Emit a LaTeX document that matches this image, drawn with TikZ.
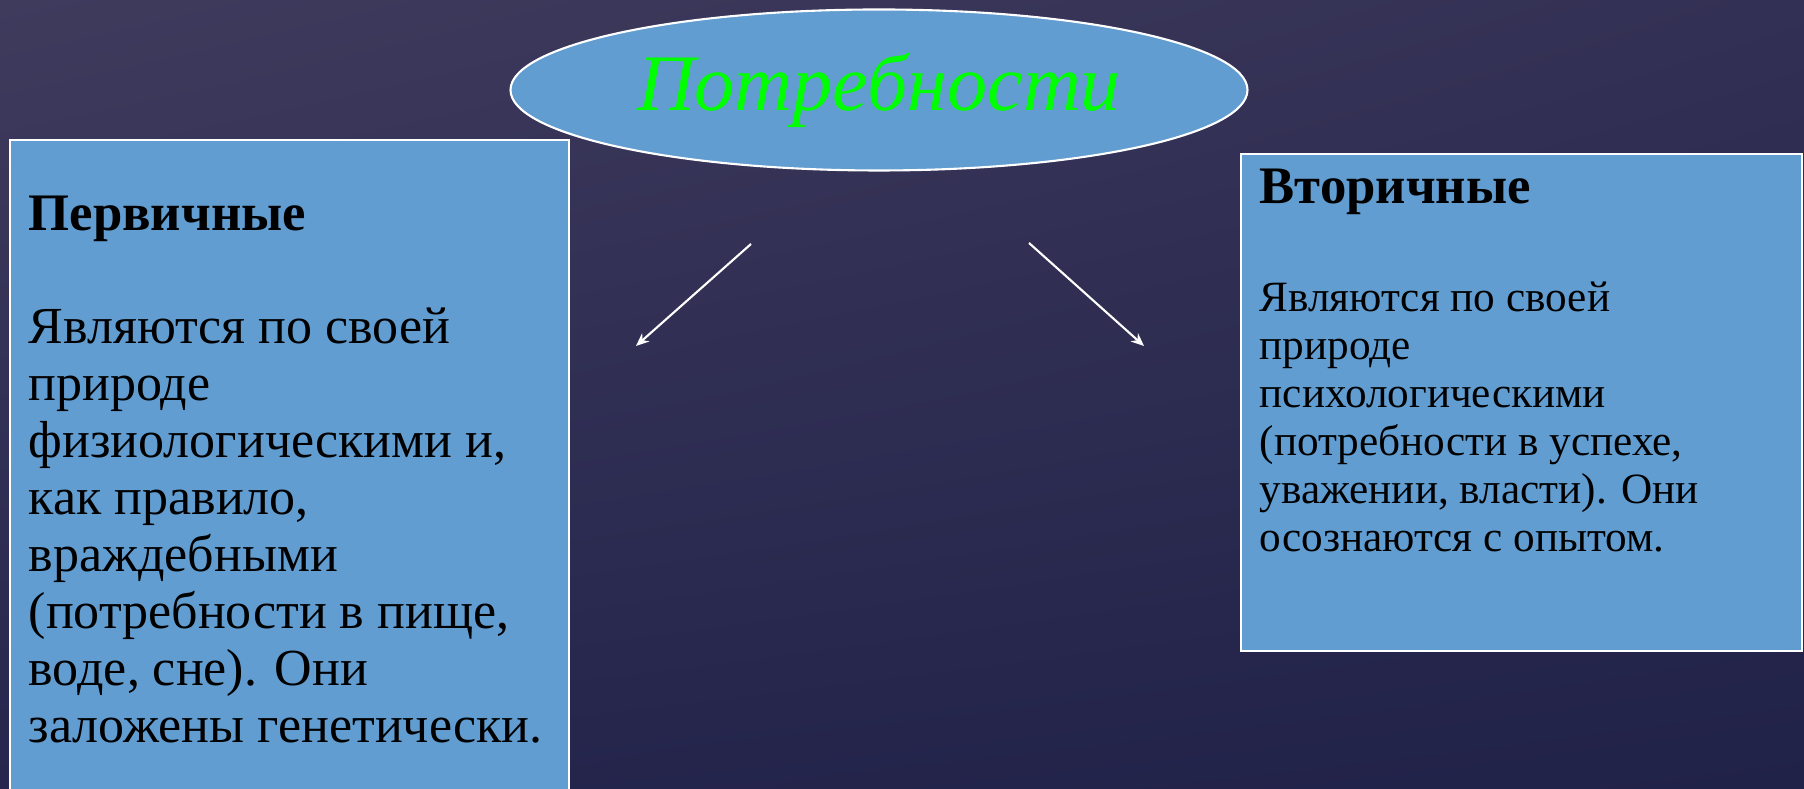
\documentclass[tikz,border=0pt]{standalone}
\usepackage{fontspec}
\setmainfont{Liberation Serif}
\usetikzlibrary{shapes.geometric,arrows.meta,shadings}
\definecolor{bgtl}{RGB}{63,59,93}
\definecolor{bgtr}{RGB}{50,48,84}
\definecolor{bgbl}{RGB}{38,38,78}
\definecolor{bgbr}{RGB}{33,34,72}
\definecolor{boxblue}{RGB}{97,157,208}
\definecolor{needgreen}{RGB}{0,255,0}
\begin{document}
\begin{tikzpicture}[>={Stealth[length=1.3mm,width=1.1mm]},
  box/.style={draw=white,line width=0.6pt,fill=boxblue,inner sep=0pt,anchor=north west},
  head/.style={anchor=base west,inner sep=0pt,font=\bfseries\fontsize{15pt}{17pt}\selectfont},
  bigtxt/.style={anchor=base west,inner sep=0pt,font=\fontsize{14.8pt}{16pt}\selectfont},
  smalltxt/.style={anchor=base west,inner sep=0pt,font=\fontsize{12.3pt}{14pt}\selectfont},
  arr/.style={->,white,line width=0.6pt}]
\useasboundingbox (0,0) rectangle (18.04,7.89);
\clip (0,0) rectangle (18.04,7.89);
\shade[upper left=bgtl,upper right=bgtr,lower left=bgbl,lower right=bgbr] (0,0) rectangle (18.04,7.89);
\node[box,minimum width=5.59cm,minimum height=7cm] (prim) at (0.09,6.50) {};
\node[box,minimum width=5.61cm,minimum height=4.97cm] (sec) at (12.40,6.36) {};
\node[ellipse,draw=white,line width=0.6pt,fill=boxblue,minimum width=7.37cm,minimum height=1.61cm,inner sep=0pt,text=needgreen,font=\itshape\fontsize{22.8pt}{24pt}\selectfont] (need) at (8.79,6.99) {Потребности};
\node[head] (primhead) at (0.28,5.58) {Первичные};
\foreach \t [count=\i from 0] in {Являются по своей,природе,{физиологическими и,},{как правило,},враждебными,{(потребности в пище,},{воде, сне). Они},заложены генетически.}
  \node[bigtxt] (pl\i) at (0.28,4.455-0.57*\i) {\t};
\node[head] (sechead) at (12.59,5.85) {Вторичные};
\foreach \t [count=\i from 0] in {Являются по своей,природе,психологическими,{(потребности в успехе,},{уважении, власти). Они},осознаются с опытом.}
  \node[smalltxt] (sl\i) at (12.59,4.77-0.48*\i) {\t};
\coordinate (l0) at (7.51,5.45);
\coordinate (l1) at (6.36,4.43);
\coordinate (r0) at (10.29,5.46);
\coordinate (r1) at (11.44,4.43);
\draw[arr] (l0) -- (l1);
\draw[arr] (r0) -- (r1);
\end{tikzpicture}
\end{document}
